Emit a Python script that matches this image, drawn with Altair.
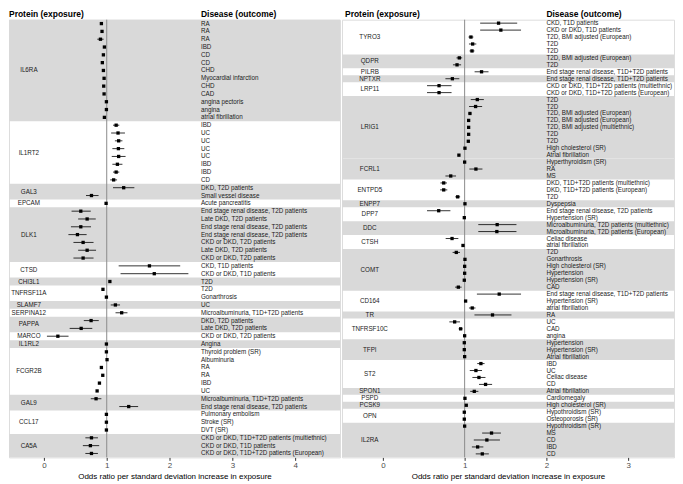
import altair as alt
import pandas as pd

# ---------------- Left panel data ----------------
left_proteins = ["IL6RA", "IL1RT2", "GAL3", "EPCAM", "DLK1", "CTSD", "CHI3L1", "TNFRSF11A",
                 "SLAMF7", "SERPINA12", "PAPPA", "MARCO", "IL1RL2", "FCGR2B", "GAL9", "CCL17", "CA5A"]
left_shaded = [True, False, True, False, True, False, True, False,
               True, False, True, False, True, False, True, False, True]
left_diseases = [
    ["RA", "RA", "RA", "IBD", "CD", "CD", "CHD", "Myocardial infarction", "CHD", "CAD",
     "angina pectoris", "angina", "atrial fibrillation"],
    ["IBD", "UC", "UC", "UC", "UC", "IBD", "IBD", "CD"],
    ["DKD, T2D patients", "Small vessel disease"],
    ["Acute pancreatitis"],
    ["End stage renal disease, T2D patients", "Late DKD, T2D patients",
     "End stage renal disease, T2D patients", "End stage renal disease, T2D patients",
     "CKD or DKD, T2D patients", "Late DKD, T2D patients", "CKD or DKD, T2D patients"],
    ["CKD, T1D patients", "CKD or DKD, T1D patients"],
    ["T2D"],
    ["T2D", "Gonarthrosis"],
    ["UC"],
    ["Microalbuminuria, T1D+T2D patients"],
    ["DKD, T2D patients", "Late DKD, T2D patients"],
    ["CKD or DKD, T2D patients"],
    ["Angina"],
    ["Thyroid problem (SR)", "Albuminuria", "RA", "RA", "IBD", "UC"],
    ["Microalbuminuria, T1D+T2D patients", "End stage renal disease, T2D patients"],
    ["Pulmonary embolism", "Stroke (SR)", "DVT (SR)"],
    ["CKD or DKD, T1D+T2D patients (multiethnic)", "CKD or DKD, T1D patients",
     "CKD or DKD, T1D+T2D patients (European)"],
]
left_est = [
    [0.915, 0.925, 0.90, 0.963, 0.947, 0.93, 0.947, 0.958, 0.952, 0.958, 0.995, 0.995, 0.963],
    [1.15, 1.18, 1.19, 1.186, 1.19, 1.17, 1.15, 1.11],
    [1.27, 0.757],
    [0.99],
    [0.587, 0.688, 0.587, 0.534, 0.624, 0.688, 0.624],
    [1.68, 1.757],
    [1.05],
    [0.94, 0.995],
    [1.138],
    [1.238],
    [0.751, 0.593],
    [0.222],
    [0.995],
    [0.995, 1.005, 0.915, 0.937, 0.884, 0.847],
    [0.83, 1.35],
    [0.995, 0.995, 0.995],
    [0.757, 0.74, 0.757],
]
left_lo = [
    [0.905, 0.915, 0.85, 0.95, 0.935, 0.92, 0.937, 0.948, 0.942, 0.948, 0.988, 0.988, 0.953],
    [1.10, 1.07, 1.13, 1.09, 1.08, 1.09, 1.10, 1.055],
    [1.10, 0.67],
    [0.985],
    [0.44, 0.545, 0.43, 0.39, 0.47, 0.545, 0.47],
    [1.19, 1.22],
    [1.04],
    [0.93, 0.99],
    [1.064],
    [1.14],
    [0.635, 0.41],
    [0.048],
    [0.99],
    [0.99, 1.0, 0.905, 0.927, 0.874, 0.837],
    [0.746, 1.20],
    [0.99, 0.99, 0.99],
    [0.66, 0.62, 0.66],
]
left_hi = [
    [0.925, 0.935, 0.95, 0.976, 0.959, 0.94, 0.957, 0.968, 0.962, 0.968, 1.002, 1.002, 0.973],
    [1.20, 1.29, 1.25, 1.28, 1.30, 1.25, 1.20, 1.165],
    [1.44, 0.87],
    [0.995],
    [0.746, 0.825, 0.75, 0.68, 0.79, 0.83, 0.79],
    [2.17, 2.30],
    [1.06],
    [0.95, 1.0],
    [1.212],
    [1.33],
    [0.873, 0.77],
    [0.392],
    [1.0],
    [1.0, 1.01, 0.925, 0.947, 0.894, 0.857],
    [0.915, 1.50],
    [1.0, 1.0, 1.0],
    [0.86, 0.88, 0.86],
]

# ---------------- Right panel data ----------------
right_proteins = ["TYRO3", "QDPR", "PILRB", "NPTXR", "LRP11", "LRIG1", "FCRL1", "ENTPD5", "ENPP7",
                  "DPP7", "DDC", "CTSH", "COMT", "CD164", "TR", "TNFRSF10C", "TFPI", "ST2",
                  "SPON1", "PSPD", "PCSK9", "OPN", "IL2RA"]
right_shaded = [False, True, False, True, False, True, True, False, True,
                False, True, False, True, False, True, False, True, False,
                True, False, True, False, True]
right_diseases = [
    ["CKD, T1D patients", "CKD or DKD, T1D patients", "T2D, BMI adjusted (European)", "T2D", "T2D"],
    ["T2D, BMI adjusted (European)", "T2D"],
    ["End stage renal disease, T1D+T2D patients"],
    ["End stage renal disease, T1D+T2D patients"],
    ["CKD or DKD, T1D+T2D patients (multiethnic)", "CKD or DKD, T1D+T2D patients (European)"],
    ["T2D", "T2D", "T2D, BMI adjusted (European)", "T2D, BMI adjusted (European)",
     "T2D, BMI adjusted (multiethnic)", "T2D", "T2D", "High cholesterol (SR)", "Atrial fibrillation"],
    ["Hyperthyroidism (SR)", "RA", "MS"],
    ["DKD, T1D+T2D patients (multiethnic)", "DKD, T1D+T2D patients (European)", "T2D"],
    ["Dyspepsia"],
    ["End stage renal disease, T2D patients", "Hypertension (SR)"],
    ["Microalbuminuria, T2D patients (multiethnic)", "Microalbuminuria, T2D patients (European)"],
    ["Celiac disease", "atrial fibrillation"],
    ["T2D", "Gonarthrosis", "High cholesterol (SR)", "Hypertension", "Hypertension (SR)", "CAD"],
    ["End stage renal disease, T1D+T2D patients", "Hypertension (SR)", "atrial fibrillation"],
    ["RA"],
    ["UC", "CAD", "angina"],
    ["Hypertension", "Hypertension (SR)", "Atrial fibrillation"],
    ["IBD", "UC", "Celiac disease", "CD"],
    ["Atrial fibrillation"],
    ["Cardiomegaly"],
    ["High cholesterol (SR)"],
    ["Hypothroidism (SR)", "Osteoporosis (SR)"],
    ["Hypothroidism (SR)", "MS", "CD", "IBD", "CD"],
]
right_est = [
    [1.415, 1.443, 1.077, 1.098, 1.09],
    [0.935, 0.907],
    [1.207],
    [0.85],
    [0.687, 0.687],
    [1.155, 1.134, 1.065, 1.049, 1.049, 1.049, 1.045, 1.004, 0.93],
    [1.0, 1.138, 0.83],
    [0.744, 0.744, 0.915],
    [1.004],
    [0.683, 0.996],
    [1.398, 1.394],
    [0.846, 0.98],
    [0.898, 1.004, 1.0, 1.0, 0.996, 0.923],
    [1.423, 1.012, 1.093],
    [1.341],
    [0.878, 0.951, 1.0],
    [0.996, 0.996, 1.0],
    [1.199, 1.138, 1.175, 1.256],
    [1.118],
    [1.004],
    [1.02],
    [0.996, 0.996],
    [1.0, 1.329, 1.272, 1.159, 1.216],
]
right_lo = [
    [1.19, 1.19, 1.047, 1.053, 1.06],
    [0.90, 0.857],
    [1.122],
    [0.765],
    [0.54, 0.54],
    [1.075, 1.054, 1.05, 1.04, 1.04, 1.04, 1.035, 0.995, 0.92],
    [0.99, 1.058, 0.765],
    [0.704, 0.70, 0.885],
    [0.997],
    [0.54, 0.99],
    [1.167, 1.167],
    [0.768, 0.975],
    [0.853, 0.997, 0.993, 0.993, 0.99, 0.883],
    [1.15, 1.007, 1.053],
    [1.12],
    [0.813, 0.926, 0.995],
    [0.99, 0.99, 0.995],
    [1.154, 1.063, 1.095, 1.176],
    [1.068],
    [0.998],
    [1.013],
    [0.99, 0.99],
    [0.995, 1.214, 1.112, 1.089, 1.136],
]
right_hi = [
    [1.643, 1.69, 1.107, 1.143, 1.12],
    [0.97, 0.957],
    [1.292],
    [0.935],
    [0.84, 0.84],
    [1.235, 1.214, 1.08, 1.058, 1.058, 1.058, 1.055, 1.013, 0.94],
    [1.01, 1.218, 0.895],
    [0.784, 0.788, 0.945],
    [1.011],
    [0.826, 1.0],
    [1.634, 1.634],
    [0.923, 0.985],
    [0.943, 1.011, 1.007, 1.007, 1.002, 0.963],
    [1.69, 1.017, 1.133],
    [1.573],
    [0.943, 0.976, 1.005],
    [1.002, 1.002, 1.005],
    [1.244, 1.213, 1.255, 1.336],
    [1.168],
    [1.01],
    [1.027],
    [1.002, 1.002],
    [1.005, 1.444, 1.432, 1.229, 1.296],
]

tick_values = [0, 1, 2, 3, 4]
x_title = "Odds ratio per standard deviation increase in exposure"
FONT = "Liberation Sans"


def build_tables(proteins, shaded, diseases, est, lo, hi):
    rows, groups = [], []
    r = 0
    for p, s, ds, es, ls, hs in zip(proteins, shaded, diseases, est, lo, hi):
        start = r
        for d, e, l, h in zip(ds, es, ls, hs):
            rows.append({"row": r, "protein": p, "disease": d, "est": e, "lo": l, "hi": h})
            r += 1
        groups.append({"protein": p, "y0": start - 0.5, "y1": r - 0.5,
                       "mid": (start + r - 1) / 2, "shaded": s})
    return pd.DataFrame(rows), pd.DataFrame(groups), r


def panel(proteins, shaded, diseases, est, lo, hi, domain, width, height,
          prot_x, dis_x, header_px):
    rows, groups, n = build_tables(proteins, shaded, diseases, est, lo, hi)
    xs = alt.Scale(domain=domain, nice=False, zero=False)
    ys = alt.Scale(domain=[-0.5, n - 0.5], reverse=True, nice=False, zero=False)
    xaxis = alt.Axis(values=tick_values, format="d", title=x_title, grid=False, domain=False,
                     tickSize=3, tickColor="#333333", labelColor="#4d4d4d",
                     labelFontSize=8, titleFontSize=8, titleFontWeight="normal",
                     titleColor="#000000", labelPadding=1, titlePadding=3,
                     labelFont=FONT, titleFont=FONT)

    bands = alt.Chart(groups[groups["shaded"]]).mark_rect(color="#d9d9d9").encode(
        x=alt.value(0), x2=alt.value(width),
        y=alt.Y("y0:Q", scale=ys, axis=None), y2="y1:Q")

    vline = alt.Chart(pd.DataFrame({"ref": [1]})).mark_rule(
        color="#8c8c8c", strokeWidth=1).encode(x=alt.X("ref:Q", scale=xs, axis=xaxis))

    base = alt.Chart(rows)
    ci = base.mark_rule(color="black", strokeWidth=0.8).encode(
        x=alt.X("lo:Q", scale=xs, axis=xaxis), x2="hi:Q",
        y=alt.Y("row:Q", scale=ys, axis=None))
    pts = base.mark_square(size=11, color="black", opacity=1).encode(
        x=alt.X("est:Q", scale=xs, axis=xaxis),
        y=alt.Y("row:Q", scale=ys, axis=None))
    dis = base.mark_text(align="left", baseline="middle", fontSize=6.3, font=FONT,
                         color="#1a1a1a").encode(
        x=alt.datum(dis_x), y=alt.Y("row:Q", scale=ys, axis=None), text="disease:N")
    prot = alt.Chart(groups).mark_text(align="center", baseline="middle", fontSize=6.3,
                                       font=FONT, color="#1a1a1a").encode(
        x=alt.datum(prot_x), y=alt.Y("mid:Q", scale=ys, axis=None), text="protein:N")

    one = pd.DataFrame({"k": [0]})
    h1 = alt.Chart(one).mark_text(align="left", baseline="middle", fontSize=8.5,
                                  fontWeight="bold", font=FONT, color="black",
                                  text="Protein (exposure)").encode(
        x=alt.value(header_px), y=alt.value(-6))
    h2 = alt.Chart(one).mark_text(align="left", baseline="middle", fontSize=8.5,
                                  fontWeight="bold", font=FONT, color="black",
                                  text="Disease (outcome)").encode(
        x=alt.datum(dis_x), y=alt.value(-6))

    return alt.layer(bands, vline, ci, pts, dis, prot, h1, h2).properties(
        width=width, height=height)


left = panel(left_proteins, left_shaded, left_diseases, left_est, left_lo, left_hi,
             domain=[-0.556, 4.714], width=332, height=439,
             prot_x=-0.24, dis_x=2.5, header_px=0)
right = panel(right_proteins, right_shaded, right_diseases, right_est, right_lo, right_hi,
              domain=[-0.5, 3.561], width=333, height=439,
              prot_x=-0.16, dis_x=2.0, header_px=3)

chart = alt.hconcat(left, right, spacing=2, bounds="flush").properties(
    padding={"left": 0, "top": 0, "right": 0, "bottom": 0}
).configure_view(strokeWidth=0).configure(font=FONT)

chart.save("out.html", embed_options={"renderer": "svg", "actions": False})
